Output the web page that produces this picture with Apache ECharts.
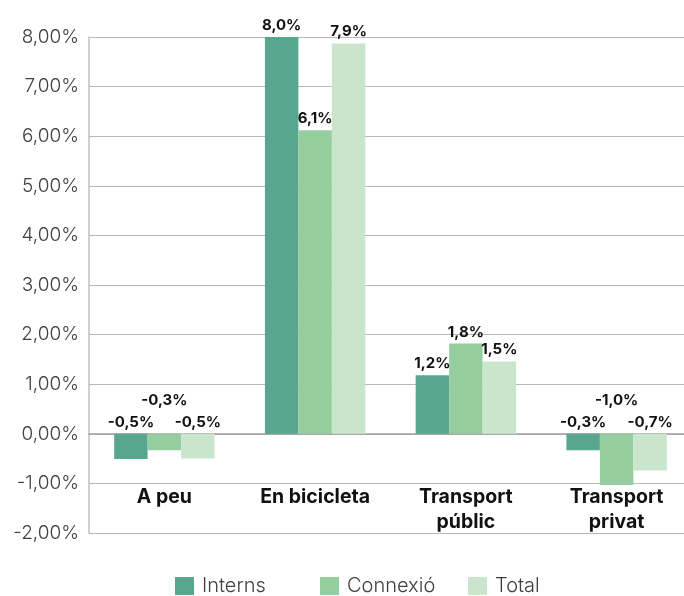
<!DOCTYPE html>
<html><head><meta charset="utf-8">
<script src="https://cdn.jsdelivr.net/npm/echarts@6/dist/echarts.min.js"></script>
<style>html,body{margin:0;padding:0;background:#fff}#c{width:684px;height:596px}</style>
</head><body><div id="c"></div>
<script>
var categories = ['A peu', 'En bicicleta', 'Transport\npúblic', 'Transport\nprivat'];
var seriesNames = ['Interns', 'Connexió', 'Total'];
var interns = [-0.51, 8.0, 1.18, -0.33];
var connexio = [-0.33, 6.12, 1.82, -1.03];
var total = [-0.5, 7.87, 1.46, -0.74];
var yTicks = [-2, -1, 0, 1, 2, 3, 4, 5, 6, 7, 8];

var colors = ['#58a690', '#95cd9e', '#c9e5cc'];
var FONT = 'Inter';
var legendLefts = [175, 320, 468];

function fmt1(v) { return v.toFixed(1).replace('.', ',') + '%'; }

function makeData(arr, raised) {
  return arr.map(function (v) {
    var item = { value: v };
    if (v < 0 && raised) item.label = { offset: [0, -22] };
    return item;
  });
}

var series = [interns, connexio, total].map(function (arr, i) {
  return {
    name: seriesNames[i],
    type: 'bar',
    data: makeData(arr, i === 1),
    itemStyle: { color: colors[i] },
    barGap: '0%',
    barCategoryGap: '33.4%',
    label: {
      show: true,
      position: 'top',
      distance: 4,
      fontFamily: FONT,
      fontWeight: 'bold',
      fontSize: 15,
      color: '#111',
      formatter: function (p) { return fmt1(p.value); }
    }
  };
});

var legends = seriesNames.map(function (name, i) {
  return {
    bottom: 0,
    left: legendLefts[i],
    padding: 0,
    itemWidth: 19,
    itemHeight: 18,
    icon: 'rect',
    textStyle: { fontFamily: FONT, fontWeight: 300, fontSize: 20, color: '#404040', padding: [0, 0, 0, 3] },
    data: [name]
  };
});

var chart = echarts.init(document.getElementById('c'));
chart.setOption({
  animation: false,
  color: colors,
  grid: { left: 89, right: -8, top: 37, bottom: 63, containLabel: false, outerBoundsMode: 'none' },
  legend: legends,
  xAxis: {
    type: 'category',
    data: categories,
    axisLine: { onZero: true, lineStyle: { color: '#a0a0a0', width: 1.5 } },
    axisTick: { show: false },
    axisLabel: {
      margin: -48,
      fontFamily: FONT,
      fontWeight: 'bold',
      fontSize: 19.5,
      lineHeight: 25,
      color: '#111'
    }
  },
  yAxis: {
    type: 'value',
    min: yTicks[0],
    max: yTicks[yTicks.length - 1],
    interval: 1,
    axisLine: { show: true, lineStyle: { color: '#c0c0c0', width: 1.5 } },
    axisTick: { show: false },
    splitLine: { lineStyle: { color: '#b8b8b8', width: 1.2 } },
    axisLabel: {
      margin: 10,
      fontFamily: FONT,
      fontWeight: 300,
      fontSize: 19,
      color: '#404040',
      formatter: function (v) { return v.toFixed(2).replace('.', ',') + '%'; }
    }
  },
  series: series
});
</script>
</body></html>
